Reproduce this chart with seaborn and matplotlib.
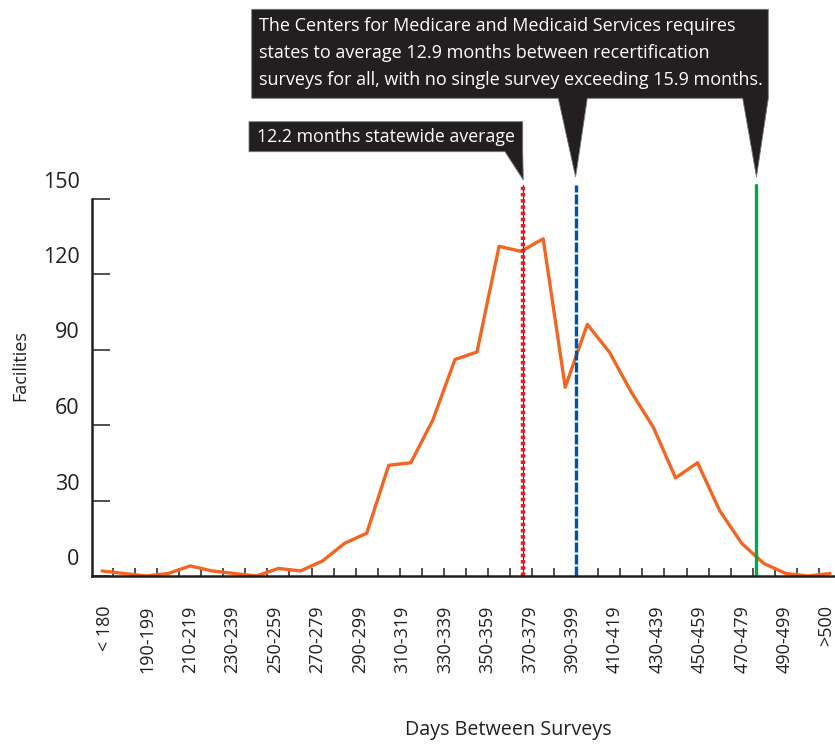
import matplotlib
matplotlib.use("Agg")
import matplotlib.pyplot as plt
import matplotlib.transforms as mtrans
from matplotlib.patches import Polygon
import numpy as np
import pandas as pd
import seaborn as sns

# data
day_bins = ["< 180", "180-189", "190-199", "200-209", "210-219", "220-229", "230-239",
            "240-249", "250-259", "260-269", "270-279", "280-289", "290-299", "300-309",
            "310-319", "320-329", "330-339", "340-349", "350-359", "360-369", "370-379",
            "380-389", "390-399", "400-409", "410-419", "420-429", "430-439", "440-449",
            "450-459", "460-469", "470-479", "480-489", "490-499", ">500"]
facilities = [2, 1, 0, 1, 4, 2, 1, 0, 3, 2, 6, 13, 17, 44, 45, 62, 86, 89, 131, 129,
              134, 75, 100, 89, 73, 59, 39, 45, 26, 13, 5, 1, 0, 1]
y_ticks = [0, 30, 60, 90, 120, 150]
# reference lines, in bin positions
statewide_avg_pos = 19.1
cms_avg_pos = 21.47
cms_max_pos = 29.67

note_small = "12.2 months statewide average"
note_big = ("The Centers for Medicare and Medicaid Services requires\n"
            "states to average 12.9 months between recertification\n"
            "surveys for all, with no single survey exceeding 15.9 months.")

sns.set_theme(style="white")
plt.rcParams["font.family"] = ["Open Sans", "DejaVu Sans"]

W, H = 835, 747
fig = plt.figure(figsize=(W / 100, H / 100), dpi=100)
ax = fig.add_axes([92 / W, (H - 576) / H, (W - 92) / W, (576 - 183.4) / H])

df = pd.DataFrame({"bin": day_bins, "n": facilities})
sns.lineplot(data=df, x="bin", y="n", ax=ax, color="#f26522", linewidth=2.4)

# vertical markers
top = 155.5 / 156
ax.axvline(statewide_avg_pos, ymax=top, color="#333333", lw=0.8)
ax.axvline(statewide_avg_pos, ymax=top, color="#ed1c24", lw=3.2,
           linestyle=(0, (0.8, 0.6)))
ax.axvline(cms_avg_pos, ymax=top, color="#0054a6", lw=2.4,
           linestyle=(0, (3, 0.6)))
ax.axvline(cms_max_pos, ymax=top, color="#00a651", lw=2.4)

ax.set_xlim(-0.453, 33.23)
ax.set_ylim(0, 156)

# axes styling
for s in ["top", "right"]:
    ax.spines[s].set_visible(False)
ax.spines["left"].set_bounds(0, 150)
for s in ["left", "bottom"]:
    ax.spines[s].set_linewidth(1.8)
    ax.spines[s].set_color("#231f20")

ax.set_yticks(y_ticks)
ax.set_yticklabels([str(v) for v in y_ticks], fontsize=15.5, color="#231f20")
ax.tick_params(axis="y", direction="in", length=13, width=1.1, color="#231f20",
               pad=9, left=True)
off = mtrans.ScaledTranslation(0, 19 / 100, fig.dpi_scale_trans)
for lab in ax.get_yticklabels():
    lab.set_transform(lab.get_transform() + off)

ax.set_xticks(np.arange(len(day_bins) - 1) + 0.5)
ax.set_xticklabels([])
ax.tick_params(axis="x", which="major", direction="in", length=6, width=1.1,
               color="#231f20", bottom=True)
# the printed labels sit on a slightly tighter spacing than the points
label_idx = list(range(0, len(day_bins) - 1, 2)) + [len(day_bins) - 1]
label_pos = list(np.linspace(0.14, 30.96, 17)) + [32.85]
ax.set_xticks(label_pos, [day_bins[i] for i in label_idx], minor=True)
ax.tick_params(axis="x", which="minor", length=0, pad=21, labelsize=13,
               labelcolor="#231f20", labelrotation=90)
for lab in ax.get_xticklabels(minor=True):
    lab.set_verticalalignment("top")

ax.set_xlabel("")
ax.set_ylabel("")
fig.text(508 / W, 1 - 730 / H, "Days Between Surveys", ha="center", va="center",
         fontsize=14.2, color="#231f20")
fig.text(20 / W, 1 - 366 / H, "Facilities", ha="center", va="center",
         rotation=90, fontsize=13, color="#231f20")

# callout boxes on a pixel overlay
ov = fig.add_axes([0, 0, 1, 1], zorder=5)
ov.set_xlim(0, W)
ov.set_ylim(H, 0)
ov.axis("off")
ov.patch.set_alpha(0)


def px(xd):
    return ax.transData.transform((xd, 0))[0]


box = "#231f20"
tip_y = 177
x_red = px(statewide_avg_pos)
x_blue = px(cms_avg_pos)
x_green = px(cms_max_pos)

ov.add_patch(Polygon([(249, 121.7), (522.7, 121.7), (522.7, 151.7), (x_red, 180),
                      (505, 151.7), (249, 151.7)], closed=True, fc=box, ec="#777777", lw=0.6))
ov.text(257, 136.5, note_small, color="white", fontsize=12.8, va="center", ha="left")

ov.add_patch(Polygon([(251.7, 9.3), (768.3, 9.3), (768.3, 98.3), (x_green, tip_y),
                      (742.7, 98.3), (587.3, 98.3), (x_blue, tip_y), (558.3, 98.3),
                      (251.7, 98.3)], closed=True, fc=box, ec="#777777", lw=0.6))
ov.text(259, 53, note_big, color="white", fontsize=12.95, va="center", ha="left",
        linespacing=1.66)

fig.savefig("out.png", dpi=100)
